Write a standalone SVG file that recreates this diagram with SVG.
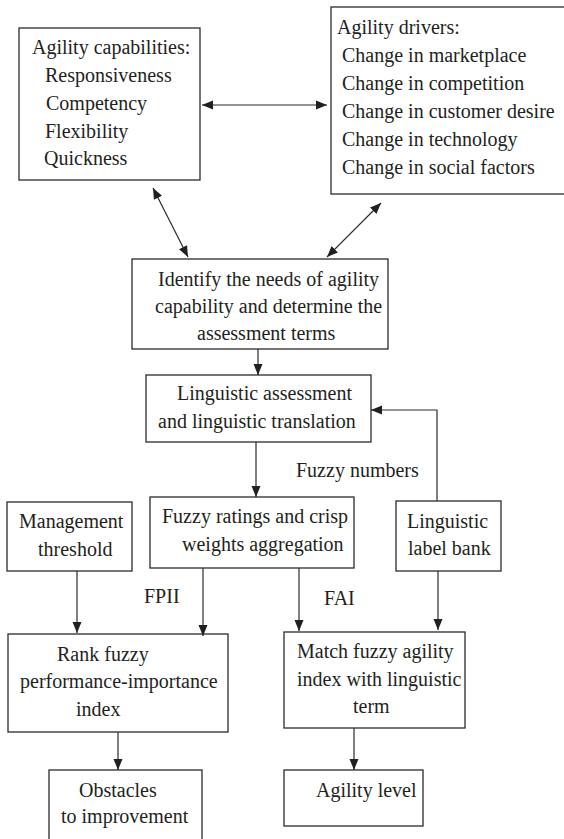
<svg xmlns="http://www.w3.org/2000/svg" width="564" height="839" viewBox="0 0 564 839">
<style>
.box{fill:#fff;stroke:#2b2b2b;stroke-width:1.3}
.t{font-family:"Liberation Serif","Times New Roman",serif;font-size:20px;fill:#231f20}
.c{fill:none;stroke:#2b2b2b;stroke-width:1.2}
</style>
<defs>
<marker id="ah" markerUnits="userSpaceOnUse" markerWidth="12" markerHeight="10" viewBox="0 0 12 10" refX="11" refY="5" orient="auto-start-reverse">
<path d="M0,0.5 L11,5 L0,9.5 Z" fill="#231f20"/>
</marker>
</defs>
<rect width="564" height="839" fill="#fff"/>
<g id="capabilities">
<rect class="box" x="19" y="28" width="181" height="152"/>
<text class="t" x="32" y="54">Agility capabilities:</text>
<text class="t" x="45" y="82">Responsiveness</text>
<text class="t" x="46" y="110">Competency</text>
<text class="t" x="45" y="138">Flexibility</text>
<text class="t" x="44" y="165">Quickness</text>
</g>
<g id="drivers">
<rect class="box" x="331" y="7" width="250" height="187"/>
<text class="t" x="337" y="34">Agility drivers:</text>
<text class="t" x="342" y="62">Change in marketplace</text>
<text class="t" x="342" y="90">Change in competition</text>
<text class="t" x="342" y="118">Change in customer desire</text>
<text class="t" x="342" y="146">Change in technology</text>
<text class="t" x="342" y="174">Change in social factors</text>
</g>
<g id="identify">
<rect class="box" x="132" y="259" width="256" height="90"/>
<text class="t" x="158" y="286">Identify the needs of agility</text>
<text class="t" x="155" y="313">capability and determine the</text>
<text class="t" x="197" y="340">assessment terms</text>
</g>
<g id="linguistic-assessment">
<rect class="box" x="146" y="375" width="225" height="67"/>
<text class="t" x="177" y="400">Linguistic assessment</text>
<text class="t" x="158" y="428">and linguistic translation</text>
</g>
<g id="fuzzy-ratings">
<rect class="box" x="150" y="497" width="204" height="71"/>
<text class="t" x="162" y="523">Fuzzy ratings and crisp</text>
<text class="t" x="182" y="551">weights aggregation</text>
</g>
<g id="management">
<rect class="box" x="7" y="502" width="125" height="69"/>
<text class="t" x="19" y="528">Management</text>
<text class="t" x="38" y="556">threshold</text>
</g>
<g id="label-bank">
<rect class="box" x="396" y="501" width="105" height="70"/>
<text class="t" x="407" y="528">Linguistic</text>
<text class="t" x="408" y="555">label bank</text>
</g>
<g id="rank">
<rect class="box" x="8" y="634" width="220" height="98"/>
<text class="t" x="57" y="661">Rank fuzzy</text>
<text class="t" x="20" y="688">performance-importance</text>
<text class="t" x="76" y="716">index</text>
</g>
<g id="match">
<rect class="box" x="284" y="632" width="181" height="96"/>
<text class="t" x="297" y="658">Match fuzzy agility</text>
<text class="t" x="297" y="686">index with linguistic</text>
<text class="t" x="353" y="713">term</text>
</g>
<g id="obstacles">
<rect class="box" x="49" y="770" width="153" height="90"/>
<text class="t" x="79" y="797">Obstacles</text>
<text class="t" x="61" y="823">to improvement</text>
</g>
<g id="agility-level">
<rect class="box" x="284" y="770" width="139" height="56"/>
<text class="t" x="316" y="797">Agility level</text>
</g>
<g id="connectors">
<line class="c" x1="202" y1="105" x2="327" y2="105" marker-start="url(#ah)" marker-end="url(#ah)"/>
<line class="c" x1="153" y1="188" x2="188" y2="257" marker-start="url(#ah)" marker-end="url(#ah)"/>
<line class="c" x1="381" y1="203" x2="327" y2="257" marker-start="url(#ah)" marker-end="url(#ah)"/>
<line class="c" x1="258" y1="349" x2="258" y2="375" marker-end="url(#ah)"/>
<polyline class="c" points="437,501 437,410 371,410" marker-end="url(#ah)"/>
<line class="c" x1="256" y1="442" x2="256" y2="497" marker-end="url(#ah)"/>
<line class="c" x1="77" y1="571" x2="77" y2="633" marker-end="url(#ah)"/>
<line class="c" x1="203" y1="568" x2="203" y2="636" marker-end="url(#ah)"/>
<line class="c" x1="299" y1="568" x2="299" y2="631" marker-end="url(#ah)"/>
<line class="c" x1="438" y1="571" x2="438" y2="630" marker-end="url(#ah)"/>
<line class="c" x1="118" y1="732" x2="118" y2="770" marker-end="url(#ah)"/>
<line class="c" x1="354" y1="728" x2="354" y2="770" marker-end="url(#ah)"/>
<text class="t" x="296" y="477">Fuzzy numbers</text>
<text class="t" x="144" y="603">FPII</text>
<text class="t" x="324" y="605">FAI</text>
</g>
</svg>
